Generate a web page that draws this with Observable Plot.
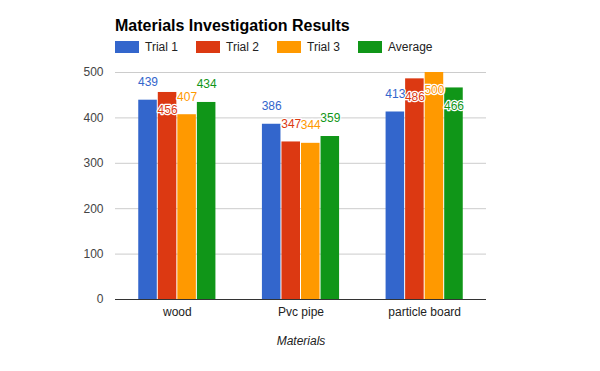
<!DOCTYPE html>
<html>
<head>
<meta charset="utf-8">
<script src="https://cdn.jsdelivr.net/npm/d3@7"></script>
<script src="https://cdn.jsdelivr.net/npm/@observablehq/plot@0.6"></script>
<style>
  body { margin: 0; background: #fff; font-family: Arial, "Liberation Sans", sans-serif; }
  #wrap { position: relative; width: 600px; height: 371px; overflow: hidden; }
  #title { position: absolute; left: 115px; top: 17px; font-size: 16px; line-height: 18px; font-weight: bold; color: #000; white-space: nowrap; }
  #legend { position: absolute; left: 115px; top: 41px; height: 12px; display: flex; align-items: center; }
  .item { width: 81px; display: flex; align-items: center; font-size: 12px; color: #222; white-space: nowrap; }
  .sw { width: 24px; height: 12px; margin-right: 6px; }
  #chart { position: absolute; left: 0; top: 58px; }
</style>
</head>
<body>
<div id="wrap">
  <div id="title"></div>
  <div id="legend"></div>
  <div id="chart"></div>
</div>
<script>
const titleText = "Materials Investigation Results";
const xTitle = "Materials";
const materials = ["wood", "Pvc pipe", "particle board"];
const series = ["Trial 1", "Trial 2", "Trial 3", "Average"];
const trial1 = [439, 386, 413];
const trial2 = [456, 347, 486];
const trial3 = [407, 344, 500];
const average = [434, 359, 466];
const colors = ["#3366cc", "#dc3912", "#ff9900", "#109618"];
const yTicks = [0, 100, 200, 300, 400, 500];

const seriesValues = [trial1, trial2, trial3, average];
const rows = materials.flatMap((m, i) =>
  seriesValues.map((arr, s) => ({ material: m, i, s, series: series[s], value: arr[i] }))
);

document.getElementById("title").textContent = titleText;
const legend = document.getElementById("legend");
series.forEach((name, k) => {
  const it = document.createElement("div");
  it.className = "item";
  const sw = document.createElement("div");
  sw.className = "sw";
  sw.style.background = colors[k];
  const t = document.createElement("span");
  t.textContent = name;
  it.appendChild(sw);
  it.appendChild(t);
  legend.appendChild(it);
});

const step = 0.158, barW = 0.15;
const center = d => d.i + (d.s - 1.5) * step;

const chart = Plot.plot({
  width: 600,
  height: 313,
  marginTop: 14,
  marginBottom: 72,
  marginLeft: 115,
  marginRight: 114,
  style: { fontFamily: "Arial, 'Liberation Sans', sans-serif", fontSize: "12px", background: "transparent" },
  x: { domain: [-0.5, materials.length - 0.5], label: null },
  y: { domain: [0, 500], label: null },
  color: { domain: series, range: colors },
  marks: [
    Plot.gridY(yTicks, { stroke: "#cccccc", strokeOpacity: 1 }),
    Plot.axisY(yTicks, { tickSize: 0, tickPadding: 12, fontSize: 12, color: "#444", label: null }),
    Plot.axisX(materials.map((m, i) => i), { tickFormat: i => materials[i], tickSize: 0, tickPadding: 8, fontSize: 12, color: "#222", label: null }),
    Plot.rectY(rows, {
      x1: d => center(d) - barW / 2,
      x2: d => center(d) + barW / 2,
      y: "value",
      fill: "series"
    }),
    Plot.ruleY([0], { stroke: "#333" }),
    Plot.text(rows.filter(d => d.value < 450), {
      x: center, y: "value", text: d => String(d.value), fill: "series",
      dy: -18, fontSize: 12, stroke: "white", strokeWidth: 2.5
    }),
    Plot.text(rows.filter(d => d.value >= 450), {
      x: center, y: "value", text: d => String(d.value), fill: "series",
      dy: 18, fontSize: 12, stroke: "white", strokeWidth: 2.5
    }),
    Plot.text([xTitle], {
      text: d => d, frameAnchor: "bottom", dy: 45, fontStyle: "italic", fontSize: 12, fill: "#222"
    })
  ]
});
document.getElementById("chart").appendChild(chart);
</script>
</body>
</html>
